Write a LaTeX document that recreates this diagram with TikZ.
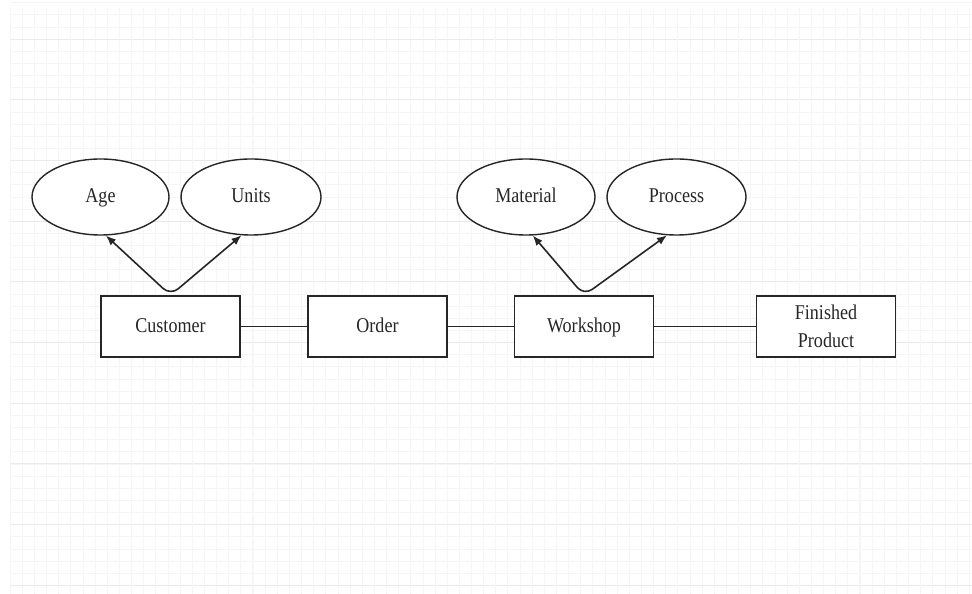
\documentclass[tikz,border=0pt]{standalone}
\usepackage{fontspec}
\setmainfont[FakeStretch=0.86]{Liberation Serif}
\usetikzlibrary{arrows.meta,shapes.geometric}
\definecolor{gridminor}{HTML}{F5F5F5}
\definecolor{gridvert}{HTML}{F6F6F6}
\definecolor{gridmajor}{HTML}{EAEAEA}
\definecolor{ink}{HTML}{262626}
\begin{document}
\begin{tikzpicture}[x=1pt,y=1pt,
  every node/.style={font=\fontsize{21}{28}\selectfont, text=ink},
  entity/.style={draw=ink, line width=1.4pt, fill=white, minimum width=139pt, minimum height=61pt, inner sep=0pt, align=center},
  oneline/.style={text height=13pt, text depth=0pt},
  attr/.style={draw=ink, line width=1.4pt, fill=white, ellipse, minimum width=138pt, minimum height=76pt, inner sep=0pt, text height=13pt, text depth=2pt},
  link/.style={draw=ink, line width=1.6pt},
  arr/.style={draw=ink, line width=1.6pt, {Latex[length=10pt,width=8pt]}-{Latex[length=10pt,width=8pt]}, rounded corners=10pt}
]
\useasboundingbox (0,0) rectangle (972,594);
\fill[white] (0,0) rectangle (972,594);
% grid
\foreach \i in {0,...,48} {
  \draw[gridminor, line width=0.6pt] (10,{594-39+ -12.14*(\i-3)}) -- (972,{594-39+ -12.14*(\i-3)});
}
\foreach \i in {0,...,79} {
  \draw[gridvert, line width=0.5pt] ({10+12.14*\i},0) -- ({10+12.14*\i},586);
}
\foreach \i in {0,...,9} {
  \draw[gridmajor, line width=0.8pt] (10,{594-39-60.7*\i}) -- (972,{594-39-60.7*\i});
}
\foreach \i in {0,...,15} {
  \draw[gridminor, line width=0.7pt] ({10+60.7*\i},0) -- ({10+60.7*\i},586);
}
% entities
\node[entity, oneline] (cust) at (170.5,267.5) {Customer};
\node[entity, oneline] (order) at (377.5,267.5) {Order};
\node[entity, oneline] (work) at (584,267.5) {Workshop};
\node[entity] (fin) at (826,267.5) {Finished\\Product};
% attributes
\node[attr, minimum width=137pt] (age) at (100.5,397) {Age};
\node[attr, minimum width=140pt] (units) at (251,397) {Units};
\node[attr, minimum width=138pt] (mat) at (526,397) {Material};
\node[attr, minimum width=139pt] (proc) at (676.5,397) {Process};
% links
\draw[link] (cust) -- (order);
\draw[link] (order) -- (work);
\draw[link] (work) -- (fin);
\draw[arr] (age.-82) -- (cust.north) -- (units.-104);
\draw[arr] (mat.-80) -- (work.north) -- (proc.-104);
\end{tikzpicture}
\end{document}
